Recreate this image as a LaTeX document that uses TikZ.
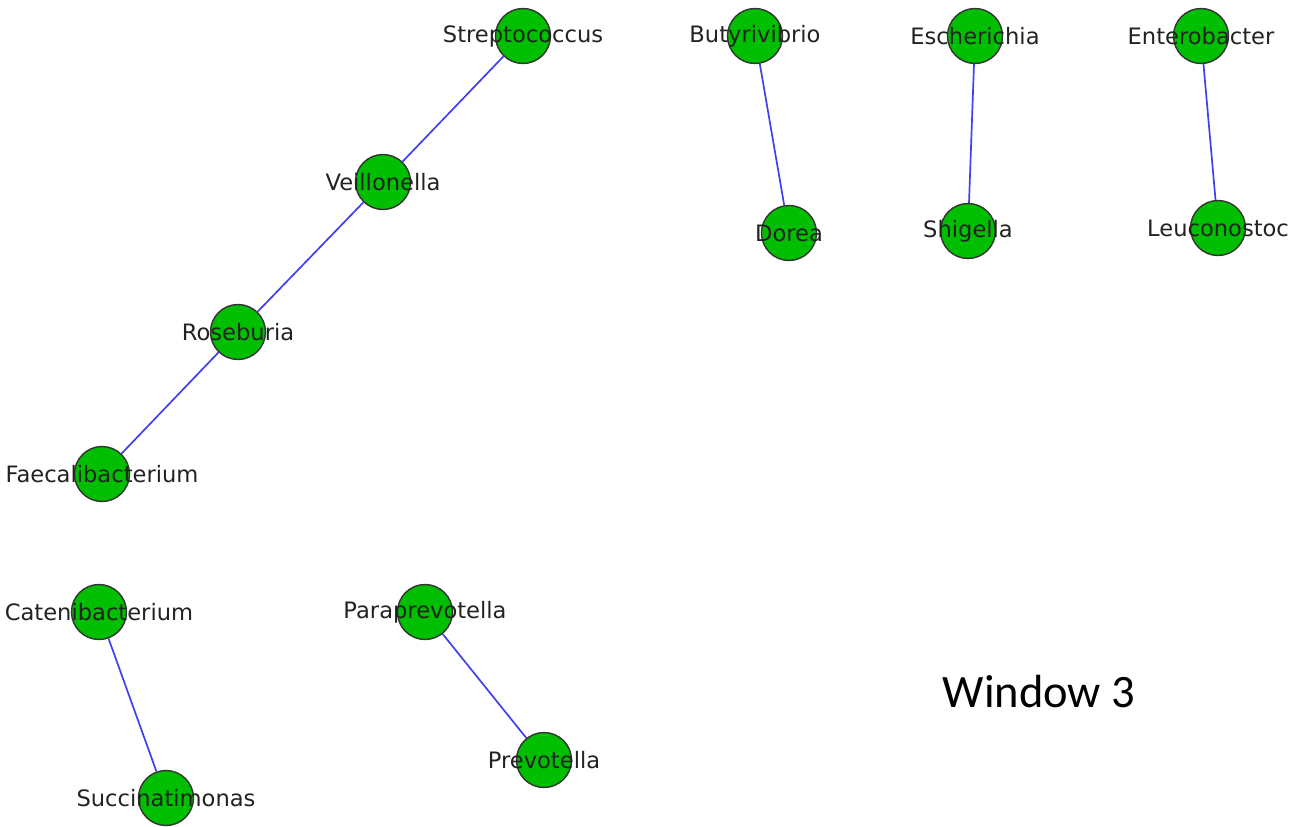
\documentclass[tikz,border=0pt]{standalone}
\usepackage{fontspec}
\setmainfont{DejaVu Sans}
\newfontfamily\titlefont{Carlito}
\begin{document}
\begin{tikzpicture}[x=1pt,y=-1pt,
  taxon/.style={circle,draw=black!80,line width=1.4pt,fill={rgb,255:red,0;green,190;blue,0},
    minimum size=55pt,inner sep=0pt},
  lbl/.style={text={rgb,255:red,34;green,34;blue,34},font=\fontsize{22.6}{26}\selectfont,inner sep=0pt},
  link/.style={draw={rgb,255:red,64;green,64;blue,240},line width=1.7pt}]
\useasboundingbox (0,0) rectangle (1301,827);
% genus nodes
\node[taxon] (strep) at (523,36) {};
\node[taxon] (veil) at (383,182) {};
\node[taxon] (rose) at (238,332) {};
\node[taxon] (faec) at (102,474) {};
\node[taxon] (buty) at (755,36) {};
\node[taxon] (dorea) at (789,233) {};
\node[taxon] (esch) at (975,36) {};
\node[taxon] (shig) at (968,231) {};
\node[taxon] (entero) at (1201,36) {};
\node[taxon] (leuco) at (1218,228) {};
\node[taxon] (cate) at (99,612) {};
\node[taxon] (succ) at (166,798) {};
\node[taxon] (para) at (425,612) {};
\node[taxon] (prev) at (544,760) {};
% co-occurrence links
\draw[link] (strep) -- (veil);
\draw[link] (veil) -- (rose);
\draw[link] (rose) -- (faec);
\draw[link] (buty) -- (dorea);
\draw[link] (esch) -- (shig);
\draw[link] (entero) -- (leuco);
\draw[link] (cate) -- (succ);
\draw[link] (para) -- (prev);
% labels on top of the circles
\node[lbl] (tstrep) at (strep) {Streptococcus};
\node[lbl] (tveil) at (veil) {Veillonella};
\node[lbl] (trose) at (rose) {Roseburia};
\node[lbl] (tfaec) at (faec) {Faecalibacterium};
\node[lbl] (tbuty) at (buty) {Butyrivibrio};
\node[lbl] (tdorea) at (dorea) {Dorea};
\node[lbl] (tesch) at (esch) {Escherichia};
\node[lbl] (tshig) at (shig) {Shigella};
\node[lbl] (tentero) at (entero) {Enterobacter};
\node[lbl] (tleuco) at (leuco) {Leuconostoc};
\node[lbl] (tcate) at (cate) {Catenibacterium};
\node[lbl] (tsucc) at (succ) {Succinatimonas};
\node[lbl] (tpara) at (para) {Paraprevotella};
\node[lbl] (tprev) at (prev) {Prevotella};
\node[inner sep=0pt,font=\titlefont\fontsize{46.5}{52}\selectfont] (title) at (1039,692) {Window 3};
\end{tikzpicture}
\end{document}
